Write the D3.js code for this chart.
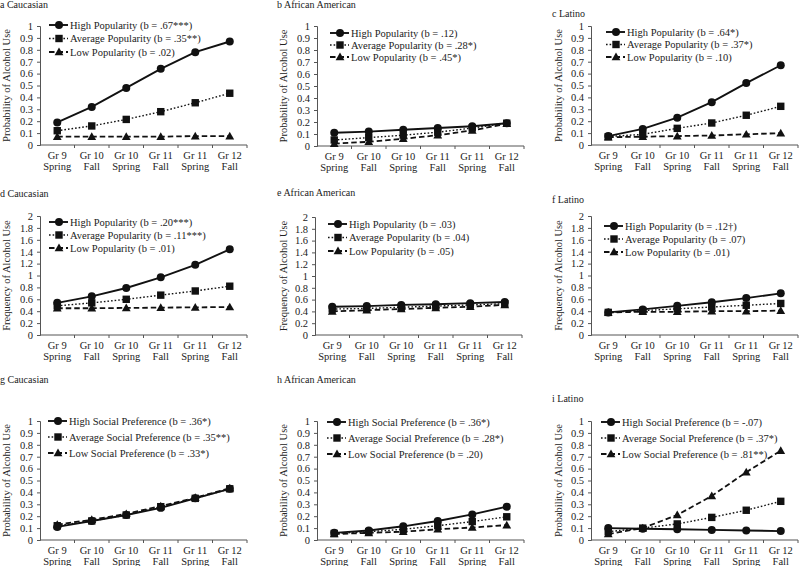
<!DOCTYPE html>
<html>
<head>
<meta charset="utf-8">
<script src="https://cdn.jsdelivr.net/npm/d3@7"></script>
<style>
  body { margin: 0; background: #fff; }
  svg { display: block; }
</style>
</head>
<body>
<div id="chart"></div>
<script>
// categories
const waves = ["Gr 9|Spring", "Gr 10|Fall", "Gr 10|Spring", "Gr 11|Fall", "Gr 11|Spring", "Gr 12|Fall"];

// a Caucasian (probability, popularity)
const aHigh = [0.19, 0.32, 0.48, 0.64, 0.78, 0.87];
const aAvg = [0.12, 0.16, 0.215, 0.28, 0.355, 0.435];
const aLow = [0.07, 0.07, 0.07, 0.07, 0.075, 0.075];
// b African American
const bHigh = [0.11, 0.12, 0.135, 0.15, 0.165, 0.19];
const bAvg = [0.05, 0.07, 0.09, 0.115, 0.15, 0.19];
const bLow = [0.02, 0.035, 0.06, 0.09, 0.13, 0.185];
// c Latino
const cHigh = [0.075, 0.135, 0.23, 0.36, 0.52, 0.67];
const cAvg = [0.07, 0.09, 0.14, 0.185, 0.25, 0.325];
const cLow = [0.065, 0.07, 0.075, 0.08, 0.09, 0.1];
// d Caucasian (frequency, popularity)
const dHigh = [0.54, 0.65, 0.79, 0.97, 1.18, 1.44];
const dAvg = [0.49, 0.54, 0.6, 0.67, 0.74, 0.82];
const dLow = [0.45, 0.45, 0.455, 0.46, 0.465, 0.47];
// e African American
const eHigh = [0.48, 0.49, 0.51, 0.52, 0.54, 0.56];
const eAvg = [0.44, 0.45, 0.47, 0.49, 0.51, 0.53];
const eLow = [0.4, 0.42, 0.44, 0.46, 0.48, 0.51];
// f Latino
const fHigh = [0.38, 0.43, 0.49, 0.55, 0.62, 0.7];
const fAvg = [0.38, 0.41, 0.44, 0.47, 0.5, 0.53];
const fLow = [0.38, 0.39, 0.39, 0.4, 0.4, 0.41];
// g Caucasian (probability, social preference)
const gHigh = [0.11, 0.16, 0.21, 0.27, 0.35, 0.43];
const gAvg = [0.12, 0.16, 0.21, 0.28, 0.35, 0.43];
const gLow = [0.13, 0.17, 0.22, 0.285, 0.355, 0.435];
// h African American
const hHigh = [0.06, 0.08, 0.115, 0.16, 0.215, 0.28];
const hAvg = [0.055, 0.07, 0.09, 0.12, 0.155, 0.195];
const hLow = [0.05, 0.06, 0.07, 0.09, 0.105, 0.125];
// i Latino
const iHigh = [0.1, 0.095, 0.09, 0.085, 0.08, 0.075];
const iAvg = [0.07, 0.1, 0.135, 0.19, 0.25, 0.325];
const iLow = [0.05, 0.1, 0.21, 0.37, 0.57, 0.75];

const titles = ["a Caucasian", "b African American", "c Latino", "d Caucasian", "e African American", "f Latino", "g Caucasian", "h African American", "i Latino"];
const yLabels = ["Probability of Alcohol Use", "Frequency of Alcohol Use", "Probability of Alcohol Use"];
const probTicks = [0, 0.1, 0.2, 0.3, 0.4, 0.5, 0.6, 0.7, 0.8, 0.9, 1];
const freqTicks = [0, 0.2, 0.4, 0.6, 0.8, 1, 1.2, 1.4, 1.6, 1.8, 2];

const legA = ["High Popularity (b = .67***)", "Average Popularity (b = .35**)", "Low Popularity (b = .02)"];
const legB = ["High Popularity (b = .12)", "Average Popularity (b = .28*)", "Low Popularity (b = .45*)"];
const legC = ["High Popularity (b = .64*)", "Average Popularity (b = .37*)", "Low Popularity (b = .10)"];
const legD = ["High Popularity (b = .20***)", "Average Popularity (b = .11***)", "Low Popularity (b = .01)"];
const legE = ["High Popularity (b = .03)", "Average Popularity (b = .04)", "Low Popularity (b = .05)"];
const legF = ["High Popularity (b = .12\u2020)", "Average Popularity (b = .07)", "Low Popularity (b = .01)"];
const legG = ["High Social Preference (b = .36*)", "Average Social Preference (b = .35**)", "Low Social Preference (b = .33*)"];
const legH = ["High Social Preference (b = .36*)", "Average Social Preference (b = .28*)", "Low Social Preference (b = .20)"];
const legI = ["High Social Preference (b = -.07)", "Average Social Preference (b = .37*)", "Low Social Preference (b = .81**)"];

const width = 800;
const height = 566;
const font = "'Liberation Serif', 'DejaVu Serif', serif";

const svg = d3.select("#chart").append("svg")
  .attr("width", width)
  .attr("height", height)
  .style("font-family", font)
  .attr("font-size", 10);

// layout of each panel (axis box, title, legend)
const panels = [
  { series: [aHigh, aAvg, aLow], leg: legA, ticks: probTicks, max: 1, yl: 0, x0: 40, y0: 26, y1: 145, tx: 0, ty: 8, lx: 49, ly: 25, ld: 13.5, labx: 6 },
  { series: [bHigh, bAvg, bLow], leg: legB, ticks: probTicks, max: 1, yl: 0, x0: 317, y0: 26, y1: 146, tx: 277, ty: 8, lx: 330, ly: 33, ld: 12, labx: 283 },
  { series: [cHigh, cAvg, cLow], leg: legC, ticks: probTicks, max: 1, yl: 0, x0: 591, y0: 26, y1: 145, tx: 552, ty: 17, lx: 606, ly: 32, ld: 12.5, labx: 558 },
  { series: [dHigh, dAvg, dLow], leg: legD, ticks: freqTicks, max: 2, yl: 1, x0: 40, y0: 216, y1: 335, tx: 0, ty: 197, lx: 49, ly: 222, ld: 13, labx: 6 },
  { series: [eHigh, eAvg, eLow], leg: legE, ticks: freqTicks, max: 2, yl: 1, x0: 315, y0: 217, y1: 335, tx: 277, ty: 196, lx: 328, ly: 224, ld: 13.5, labx: 283 },
  { series: [fHigh, fAvg, fLow], leg: legF, ticks: freqTicks, max: 2, yl: 1, x0: 591, y0: 216, y1: 335, tx: 552, ty: 203, lx: 604, ly: 226, ld: 13, labx: 558 },
  { series: [gHigh, gAvg, gLow], leg: legG, ticks: probTicks, max: 1, yl: 2, x0: 40, y0: 421, y1: 540, tx: 0, ty: 383, lx: 48, ly: 421, ld: 16, labx: 6 },
  { series: [hHigh, hAvg, hLow], leg: legH, ticks: probTicks, max: 1, yl: 2, x0: 317, y0: 421, y1: 540, tx: 277, ty: 383, lx: 327, ly: 422, ld: 16, labx: 283 },
  { series: [iHigh, iAvg, iLow], leg: legI, ticks: probTicks, max: 1, yl: 2, x0: 591, y0: 421, y1: 540, tx: 552, ty: 402, lx: 601, ly: 422, ld: 16, labx: 558 }
];

const dashes = [null, "1.6,2", "5.5,3"];
const strokeW = [1.9, 1.4, 1.8];
const axisColor = "#555";
const textColor = "#222";
const bandW = 207;

function drawMarker(g, k, x, y) {
  if (k === 0) {
    g.append("circle").attr("cx", x).attr("cy", y).attr("r", 4).attr("fill", "#111");
  } else if (k === 1) {
    g.append("rect").attr("x", x - 3.7).attr("y", y - 3.7).attr("width", 7.4).attr("height", 7.4).attr("fill", "#111");
  } else {
    const s = 4.4;
    g.append("path")
      .attr("d", `M${x},${y - s}L${x + s},${y + s * 0.75}L${x - s},${y + s * 0.75}Z`)
      .attr("fill", "#111");
  }
}

panels.forEach((p, pi) => {
  const g = svg.append("g").attr("class", "panel");

  const x = d3.scaleBand().domain(waves).range([p.x0, p.x0 + bandW]);
  const y = d3.scaleLinear().domain([0, p.max]).range([p.y1, p.y0]);

  // title
  g.append("text")
    .attr("x", p.tx)
    .attr("y", p.ty)
    .attr("font-size", 10)
    .attr("fill", textColor)
    .text(titles[pi]);

  // y axis
  const yAxis = g.append("g")
    .attr("transform", `translate(${p.x0},0)`)
    .call(d3.axisLeft(y).tickValues(p.ticks).tickSize(3).tickPadding(4)
      .tickFormat(d => String(+d.toFixed(1))));
  yAxis.attr("font-family", null).style("font-family", font);
  yAxis.select(".domain").attr("stroke", axisColor);
  yAxis.selectAll(".tick line").attr("stroke", axisColor);
  yAxis.selectAll("text").attr("font-size", 10.5).attr("fill", textColor);

  // x axis with ticks on band edges
  const xAxis = g.append("g").attr("transform", `translate(0,${p.y1})`);
  xAxis.append("line")
    .attr("x1", p.x0).attr("x2", p.x0 + bandW)
    .attr("stroke", axisColor);
  xAxis.selectAll(".edge")
    .data(waves)
    .join("line")
    .attr("class", "edge")
    .attr("x1", d => x(d) + x.bandwidth())
    .attr("x2", d => x(d) + x.bandwidth())
    .attr("y1", 0).attr("y2", 3)
    .attr("stroke", axisColor);
  const lbl = xAxis.selectAll(".wlab")
    .data(waves)
    .join("text")
    .attr("class", "wlab")
    .attr("text-anchor", "middle")
    .attr("font-size", 10.5)
    .attr("fill", textColor);
  lbl.each(function (d) {
    const parts = d.split("|");
    const t = d3.select(this);
    parts.forEach((s, i) => {
      t.append("tspan")
        .attr("x", x(d) + x.bandwidth() / 2)
        .attr("y", 14 + i * 10.5)
        .text(s);
    });
  });

  // y label
  g.append("text")
    .attr("transform", `translate(${p.labx + 3.5},${(p.y0 + p.y1) / 2}) rotate(-90)`)
    .attr("text-anchor", "middle")
    .attr("font-size", 10.5)
    .attr("fill", textColor)
    .text(yLabels[p.yl]);

  // lines
  const line = d3.line()
    .x((d, i) => x(waves[i]) + x.bandwidth() / 2)
    .y(d => y(d));

  [2, 1, 0].forEach(k => {
    g.append("path")
      .datum(p.series[k])
      .attr("d", line)
      .attr("fill", "none")
      .attr("stroke", "#111")
      .attr("stroke-width", strokeW[k])
      .attr("stroke-dasharray", dashes[k]);
    p.series[k].forEach((v, i) => drawMarker(g, k, x(waves[i]) + x.bandwidth() / 2, y(v)));
  });

  // legend
  p.leg.forEach((t, k) => {
    const ly = p.ly + k * p.ld;
    g.append("line")
      .attr("x1", p.lx).attr("x2", p.lx + 19)
      .attr("y1", ly).attr("y2", ly)
      .attr("stroke", "#111")
      .attr("stroke-width", strokeW[k])
      .attr("stroke-dasharray", dashes[k]);
    drawMarker(g, k, p.lx + 10, ly);
    g.append("text")
      .attr("x", p.lx + 21)
      .attr("y", ly + 3.5)
      .attr("font-size", 10.5)
      .attr("fill", textColor)
      .text(t);
  });
});
</script>
</body>
</html>
